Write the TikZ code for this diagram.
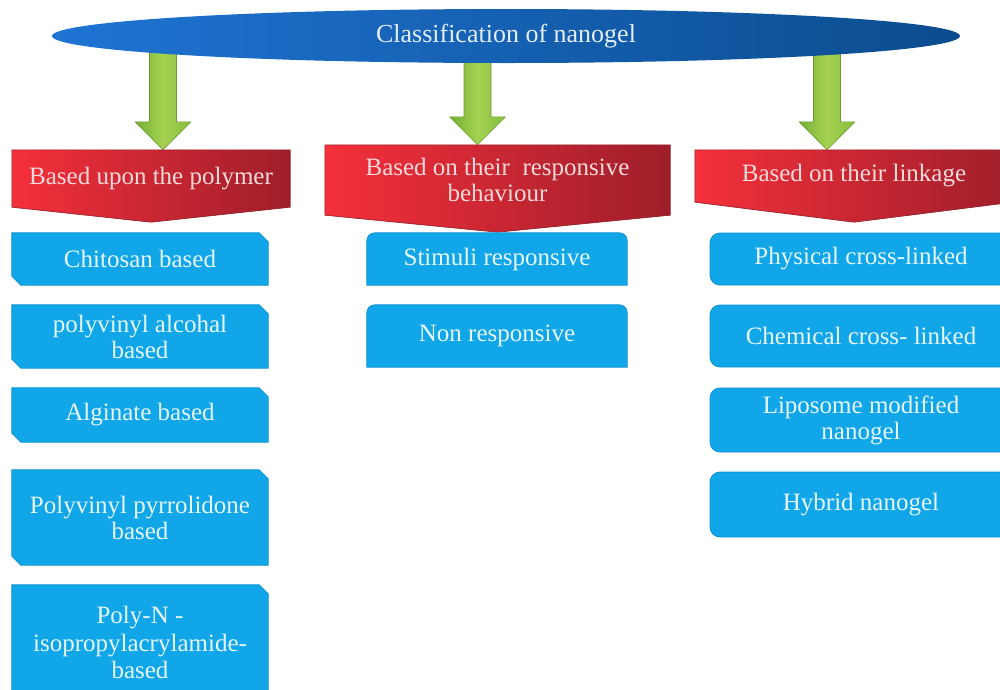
\documentclass[tikz,border=0pt]{standalone}
\usepackage{fontspec}
\setmainfont{Liberation Serif}
\usetikzlibrary{calc,shapes.geometric,backgrounds}
\definecolor{ellL}{HTML}{1F74D4}
\definecolor{ellR}{HTML}{0B4C8E}
\definecolor{ellT}{HTML}{E2EEFA}
\definecolor{redL}{HTML}{F4303B}
\definecolor{redR}{HTML}{9E1E2A}
\definecolor{redE}{HTML}{8E1C26}
\definecolor{redT}{HTML}{F9DADA}
\definecolor{grL}{HTML}{76AE36}
\definecolor{grM}{HTML}{A4D250}
\definecolor{grR}{HTML}{86BC40}
\definecolor{grE}{HTML}{6A9C30}
\definecolor{boxB}{HTML}{10A6E8}
\definecolor{boxE}{HTML}{0B8FD0}
\definecolor{boxT}{HTML}{E6F7FD}

% green block arrow from the top ellipse down to a category node (#1), shifted by #2
\newcommand\grarrow[2]{%
  \shade[grarrowstyle]
    ($(#1.north |- top.center)+(#2-13.5,0)$) --
    ($(#1.north |- top.center)+(#2+13.5,0)$) --
    ($(#1.north)+(#2+13.5,28)$) -- ($(#1.north)+(#2+28,28)$) --
    ($(#1.north)+(#2,0)$) --
    ($(#1.north)+(#2-28,28)$) -- ($(#1.north)+(#2-13.5,28)$) -- cycle;}
% red tag with a downward point of depth #2
\newcommand\redtag[2]{%
  \shade[redshade] (#1.north west) -- (#1.north east) -- (#1.south east) --
    ($(#1.south)+(0,-#2)$) -- (#1.south west) -- cycle;}
% blue box with snipped north-east and south-west corners
\newcommand\snipbox[1]{%
  \filldraw[boxfill] (#1.north west) -- ($(#1.north east)+(-9,0)$) --
    ($(#1.north east)+(0,-9)$) -- (#1.south east) --
    ($(#1.south west)+(9,0)$) -- ($(#1.south west)+(0,9)$) -- cycle;}
% blue box with rounded top corners only
\newcommand\topround[1]{%
  \filldraw[boxfill] (#1.south west) [rounded corners=8pt] -- (#1.north west) --
    (#1.north east) [sharp corners] -- (#1.south east) -- cycle;}

\begin{document}
\begin{tikzpicture}[x=1pt,y=1pt,
  txt/.style={font=\fontsize{25}{26}\selectfont, align=center, inner sep=0pt},
  cat/.style={txt, text=redT},
  grarrowstyle/.style={left color=grL, right color=grR, middle color=grM, draw=grE, line width=0.6pt},
  redshade/.style={left color=redL, right color=redR, draw=redE, line width=0.6pt},
  boxfill/.style={fill=boxB, draw=boxE, line width=0.8pt},
  leftbox/.style={txt, text=boxT, minimum width=256pt},
  midbox/.style={txt, text=boxT, minimum width=260pt},
  rightbox/.style={txt, text=boxT, minimum width=302pt, fill=boxB, draw=boxE, line width=0.8pt, rounded corners=10pt},
]
\clip (0,0) rectangle (1000,-689);

% top ellipse
\node[ellipse, minimum width=908pt, minimum height=54pt, inner sep=0pt,
      left color=ellL, right color=ellR, text=ellT,
      font=\fontsize{26}{28}\selectfont] (top) at (506,-36) {Classification of nanogel};

% category tags
\node[cat, minimum width=278pt, minimum height=57pt] (cat1) at (151,-178.5) {Based upon the polymer};
\node[cat, minimum width=345pt, minimum height=70pt] (cat2) at (497.5,-180) {Based on their\ \ responsive\\behaviour};
\node[cat, minimum width=318pt, minimum height=52pt] (cat3) at (854,-176) {Based on their linkage};

% left column
\node[leftbox, minimum height=52pt] (l1) at (140,-259) {Chitosan based};
\node[leftbox, minimum height=63pt] (l2) at (140,-336.5) {polyvinyl alcohal\\based};
\node[leftbox, minimum height=54pt] (l3) at (140,-415) {Alginate based};
\node[leftbox, minimum height=95pt] (l4) at (140,-517.5) {Polyvinyl pyrrolidone\\based};
\node[leftbox, minimum height=115pt, font=\fontsize{25}{27.5}\selectfont] (l5) at (140,-642.5) {Poly-N -\\isopropylacrylamide-\\based};

% middle column
\node[midbox, minimum height=52pt] (m1) at (497,-259) {Stimuli responsive};
\node[midbox, minimum height=62pt] (m2) at (497,-336) {Non responsive};

% right column
\node[rightbox, minimum height=52pt] (r1) at (861,-259) {Physical cross-linked};
\node[rightbox, minimum height=62pt] (r2) at (861,-336) {Chemical cross- linked};
\node[rightbox, minimum height=64pt] (r3) at (861,-420) {Liposome modified\\nanogel};
\node[rightbox, minimum height=65pt] (r4) at (861,-504.5) {Hybrid nanogel};

\begin{scope}[on background layer]
  \grarrow{cat1}{12}
  \grarrow{cat2}{-20}
  \grarrow{cat3}{-27}
  \redtag{cat1}{15}
  \redtag{cat2}{17}
  \redtag{cat3}{20}
  \snipbox{l1}\snipbox{l2}\snipbox{l3}\snipbox{l4}\snipbox{l5}
  \topround{m1}\topround{m2}
\end{scope}
\end{tikzpicture}
\end{document}
